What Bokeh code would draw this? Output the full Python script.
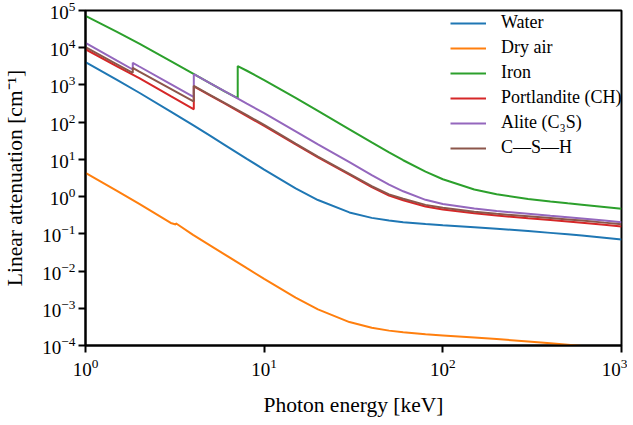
from bokeh.plotting import figure
from bokeh.models import Range1d, FixedTicker, Legend, LegendItem
from bokeh.embed import file_html
from bokeh.resources import INLINE

# ---------------- data (linear attenuation, cm^-1) ----------------
energy_water = [1, 1.5, 2, 3, 4, 5, 6, 8, 10, 15, 20, 30, 40, 50, 60, 80, 100,
                150, 200, 300, 400, 500, 600, 800, 1000]
water = [4078, 1376, 617.3, 192.9, 82.78, 42.58, 24.64, 10.37, 5.329, 1.673,
         0.8096, 0.3756, 0.2683, 0.2269, 0.2059, 0.1837, 0.1707, 0.1505, 0.137,
         0.1186, 0.1061, 0.09687, 0.08956, 0.07865, 0.07072]

energy_air = [1, 1.5, 2, 3, 3.2029, 3.2029, 4, 5, 6, 8, 10, 15, 20, 30, 40, 50,
              60, 80, 100, 150, 200, 300, 400, 500, 600, 800, 1000]
dry_air = [4.345, 1.435, 0.636, 0.1958, 0.179, 0.192, 0.0938, 0.0485, 0.0282,
           0.01195, 0.00617, 0.001945, 0.000937, 0.000426, 0.000299, 0.000251,
           0.000226, 0.0002, 0.000186, 0.000163, 0.000149, 0.000129, 0.000115,
           0.000105, 0.0000971, 0.0000852, 0.0000766]

energy_iron = [1, 1.5, 2, 3, 4, 5, 6, 7.112, 7.112, 8, 10, 15, 20, 30, 40, 50,
               60, 80, 100, 150, 200, 300, 400, 500, 600, 800, 1000]
iron = [71535, 26764, 12803, 4391, 2021, 1101, 675.3, 439.7, 3209, 2406, 1343,
        449.4, 202.2, 64.38, 28.57, 15.42, 9.488, 4.687, 2.927, 1.546, 1.15,
        0.865, 0.740, 0.6625, 0.6066, 0.5275, 0.472]

energy_ch = [1, 1.5, 2, 3, 4, 4.0381, 4.0381, 5, 6, 8, 10, 15, 20, 30, 40, 50,
             60, 80, 100, 150, 200, 300, 400, 500, 600, 800, 1000]
portlandite = [9100, 3170, 1530, 502, 228, 222, 920, 520, 318, 145, 80, 25.3,
               11.3, 3.9, 1.8, 1.07, 0.8, 0.54, 0.45, 0.355, 0.31, 0.262, 0.234,
               0.214, 0.198, 0.175, 0.157]

energy_si_ca = [1, 1.5, 1.8389, 1.8389, 2, 3, 4, 4.0381, 4.0381, 5, 6, 8, 10,
                15, 20, 30, 40, 50, 60, 80, 100, 150, 200, 300, 400, 500, 600,
                800, 1000]
alite = [13500, 4500, 2600, 3930, 3130, 1055, 489, 479, 1950, 1108, 683, 314,
         176, 56.5, 25.2, 8.4, 3.8, 2.1, 1.39, 0.82, 0.63, 0.48, 0.41, 0.345,
         0.305, 0.278, 0.257, 0.227, 0.205]
csh = [10300, 3590, 2110, 2880, 2295, 790, 369, 363, 946, 536, 328, 155, 84,
       26.5, 11.8, 4.1, 1.9, 1.15, 0.88, 0.6, 0.5, 0.39, 0.345, 0.295, 0.265,
       0.243, 0.227, 0.2, 0.182]

series_names = ["Water", "Dry air", "Iron", "Portlandite (CH)", "Alite (C\u2083S)",
                "C\u2014S\u2014H"]
series_x = [energy_water, energy_air, energy_iron, energy_ch, energy_si_ca, energy_si_ca]
series_y = [water, dry_air, iron, portlandite, alite, csh]
colors = ["#1f77b4", "#ff7f0e", "#2ca02c", "#d62728", "#9467bd", "#8c564b"]

x_ticks = [1, 10, 100, 1000]
y_ticks = [1e-4, 1e-3, 1e-2, 1e-1, 1, 10, 100, 1e3, 1e4, 1e5]

FONT = "Liberation Serif"

p = figure(x_axis_type="log", y_axis_type="log",
           x_range=Range1d(1, 1000), y_range=Range1d(1e-4, 1e5),
           frame_width=536, frame_height=335,
           min_border_left=70, min_border_right=6, min_border_top=10,
           min_border_bottom=68,
           output_backend="svg", toolbar_location=None)

p.background_fill_color = "white"
p.border_fill_color = "white"
p.grid.visible = False
p.outline_line_color = "black"
p.outline_line_width = 2

p.xaxis.ticker = FixedTicker(ticks=x_ticks)
p.yaxis.ticker = FixedTicker(ticks=y_ticks)
for ax in (p.xaxis, p.yaxis):
    ax.axis_line_width = 2
    ax.axis_line_color = "black"
    ax.major_tick_out = 7
    ax.major_tick_in = 0
    ax.major_tick_line_width = 2
    ax.minor_tick_line_color = None
    ax.major_label_text_font = FONT
    ax.major_label_text_font_size = "19px"
    ax.major_label_text_color = "black"
    ax.axis_label_text_font = FONT
    ax.axis_label_text_font_size = "21.5px"
    ax.axis_label_text_font_style = "normal"
    ax.axis_label_text_color = "black"

p.xaxis.axis_label = "Photon energy [keV]"
p.yaxis.axis_label = "Linear attenuation [cm\u207b\u00b9]"
p.xaxis.major_label_standoff = 6
p.yaxis.major_label_standoff = 3
p.xaxis.axis_label_standoff = 14
p.yaxis.axis_label_standoff = 12

items = []
for name, xs, ys, c in zip(series_names, series_x, series_y, colors):
    r = p.line(xs, ys, line_color=c, line_width=2)
    items.append(LegendItem(label=name, renderers=[r]))

legend = Legend(items=items, location=(365, 187))
legend.border_line_color = None
legend.background_fill_alpha = 0
legend.padding = 0
legend.margin = 0
legend.spacing = 4
legend.glyph_width = 36
legend.glyph_height = 20
legend.label_height = 20
legend.label_standoff = 15
legend.label_text_font = FONT
legend.label_text_font_size = "18px"
legend.label_text_color = "black"
p.add_layout(legend)

open("out.html", "w").write(file_html(p, INLINE))
